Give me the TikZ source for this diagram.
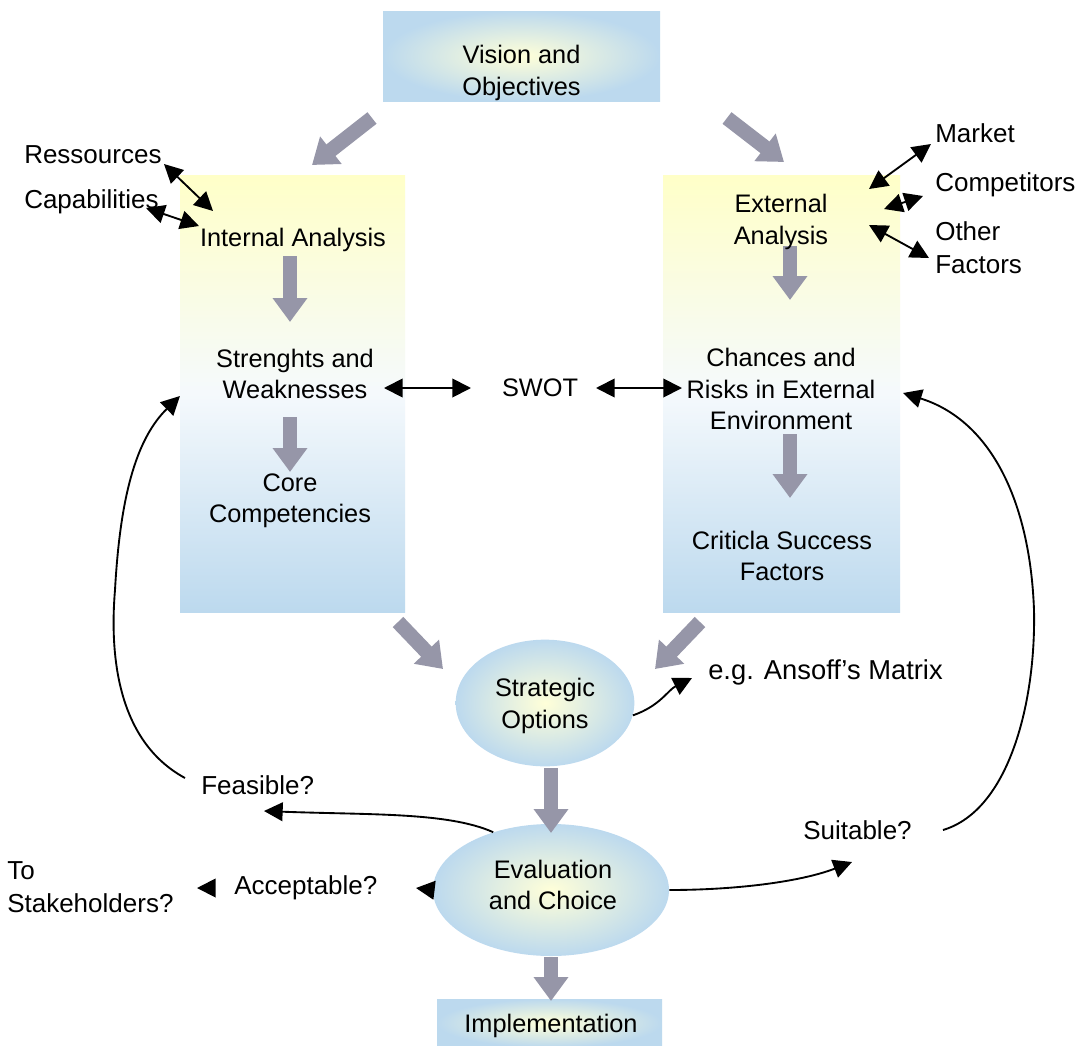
\documentclass[tikz,border=0pt]{standalone}
\usepackage{fontspec}
\setmainfont{Liberation Sans}
\usetikzlibrary{arrows.meta,shapes.geometric,calc}
\definecolor{ylw}{RGB}{255,255,200}
\definecolor{lblue}{RGB}{188,217,238}
\definecolor{garrowc}{RGB}{150,150,168}
\begin{document}
\begin{tikzpicture}[x=0.75pt,y=-0.75pt,
  txt/.style={inner sep=0pt, align=center, font=\fontsize{19}{23.5}\selectfont},
  ltxt/.style={inner sep=0pt, align=left, anchor=west, font=\fontsize{19.5}{24.5}\selectfont},
  garrow/.style={draw=garrowc, line width=11pt, -{Triangle[length=18pt,width=25pt]}},
  barrow/.style={draw=black, line width=1.4pt, -{Triangle[length=14pt,width=14pt]}},
  dbarrow/.style={draw=black, line width=1.4pt, {Triangle[length=14pt,width=14pt]}-{Triangle[length=14pt,width=14pt]}},
  colbox/.style={rectangle, inner sep=0pt, top color=ylw, bottom color=lblue, middle color=white!85!lblue},
  radbox/.style={rectangle, inner sep=0pt, inner color=ylw!70!white, outer color=lblue},
  radell/.style={ellipse, inner sep=0pt, inner color=ylw!70!white, outer color=lblue}
]
\useasboundingbox[fill=white] (0,0) rectangle (1089,1046);

% boxes and ellipses
\node[radbox, minimum width=207.75pt, minimum height=67.5pt] (vision) at (521.5,56) {};
\node[colbox, minimum width=168.75pt, minimum height=327.75pt] (leftbox) at (292.5,393.5) {};
\node[colbox, minimum width=177.75pt, minimum height=327.75pt] (rightbox) at (781.5,393.5) {};
\node[radell, minimum width=134pt, minimum height=95pt] (strat) at (545,703) {};
\node[radell, minimum width=177pt, minimum height=99pt] (eval) at (551,890) {};
\node[radbox, minimum width=168.75pt, minimum height=36pt] (impl) at (549.5,1023) {};

% gray arrows
\coordinate (g1s) at (372,118); \coordinate (g1e) at (312,165);
\coordinate (g2s) at (727,118); \coordinate (g2e) at (784,162);
\coordinate (g3s) at (290,256); \coordinate (g3e) at (290,322);
\coordinate (g4s) at (290,417); \coordinate (g4e) at (290,472);
\coordinate (g5s) at (790,246); \coordinate (g5e) at (790,300);
\coordinate (g6s) at (790,434); \coordinate (g6e) at (790,498);
\coordinate (g7s) at (398,622); \coordinate (g7e) at (443,669);
\coordinate (g8s) at (700,622); \coordinate (g8e) at (655,669);
\coordinate (g9s) at (551,768); \coordinate (g9e) at (551,833);
\coordinate (g10s) at (551,957); \coordinate (g10e) at (551,1001);
\foreach \a in {1,...,10} {\draw[garrow] (g\a s) -- (g\a e);}

% texts
\node[txt] (vtxt) at (521.5,73) {Vision and\\Objectives};
\node[txt] (ia) at (293,240) {Internal Analysis};
\node[txt] (sw) at (295,374) {Strenghts and\\Weaknesses};
\node[txt] (cc) at (290,501) {Core\\Competencies};
\node[txt] (ea) at (781,222) {External\\Analysis};
\node[txt] (cr) at (781,389) {Chances and\\Risks in External\\Environment};
\node[txt] (csf) at (782,556) {Criticla Success\\Factors};
\node[txt] (swot) at (540,388) {SWOT};
\node[txt] (stxt) at (545,706) {Strategic\\Options};
\node[txt] (etxt) at (553,885) {Evaluation\\and Choice};
\node[txt] (itxt) at (551,1026) {Implementation};
\node[ltxt] (res) at (24,155) {Ressources};
\node[ltxt] (cap) at (24,202) {Capabilities};
\node[ltxt] (mkt) at (935,133) {Market};
\node[ltxt] (comp) at (935,185) {Competitors};
\node[ltxt] (oth) at (935,248) {Other\\Factors};
\node[ltxt, font=\fontsize{20.5}{24}\selectfont] (ansoff) at (708,672) {e.g. Ansoff's Matrix};
\node[ltxt] (feas) at (201,785) {Feasible?};
\node[ltxt] (suit) at (803,830) {Suitable?};
\node[ltxt] (acc) at (234,888) {Acceptable?};
\node[ltxt] (stake) at (7,887) {To\\Stakeholders?};

% black arrows
\coordinate (resS) at (164,164); \coordinate (resE) at (213,211);
\coordinate (capS) at (146,208); \coordinate (capE) at (199,226);
\coordinate (mktS) at (931,144); \coordinate (mktE) at (869,189);
\coordinate (compS) at (923,196); \coordinate (compE) at (884,209);
\coordinate (othS) at (869,225); \coordinate (othE) at (929,258);
\draw[dbarrow] (resS) -- (resE);
\draw[dbarrow] (capS) -- (capE);
\draw[dbarrow] (mktS) -- (mktE);
\draw[dbarrow] (compS) -- (compE);
\draw[dbarrow] (othS) -- (othE);
\coordinate (swR) at (384,388); \coordinate (swotL) at (471,388);
\coordinate (swotR) at (596,388); \coordinate (crL) at (682,388);
\draw[dbarrow] (swR) -- (swotL);
\draw[dbarrow] (swotR) -- (crL);

\coordinate (feasE) at (264,811);
\draw[barrow] (eval.135) .. controls (448,812) and (370,815) .. (feasE);
\coordinate (suitE) at (852,862);
\draw[barrow] (eval.east) .. controls (735,890) and (800,882) .. (suitE);
\coordinate (ansE) at (692,678);
\draw[barrow] (strat.-8) .. controls (660,706) and (668,690) .. (ansE);
\coordinate (accE) at (416,888);
\draw[barrow] (eval.west) -- (accE);
\coordinate (stkS) at (212,888); \coordinate (stkE) at (197,888);
\draw[barrow] (stkS) -- (stkE);

\coordinate (lfS) at (185,778); \coordinate (lfE) at (180,396);
\draw[barrow] (lfS) .. controls (115,740) and (110,650) .. (115,590)
  .. controls (120,500) and (135,440) .. (lfE);
\coordinate (rfS) at (943,830); \coordinate (rfE) at (903,393);
\draw[barrow] (rfS) .. controls (1010,810) and (1036,700) .. (1034,610)
  .. controls (1030,500) and (990,420) .. (rfE);
\end{tikzpicture}
\end{document}
